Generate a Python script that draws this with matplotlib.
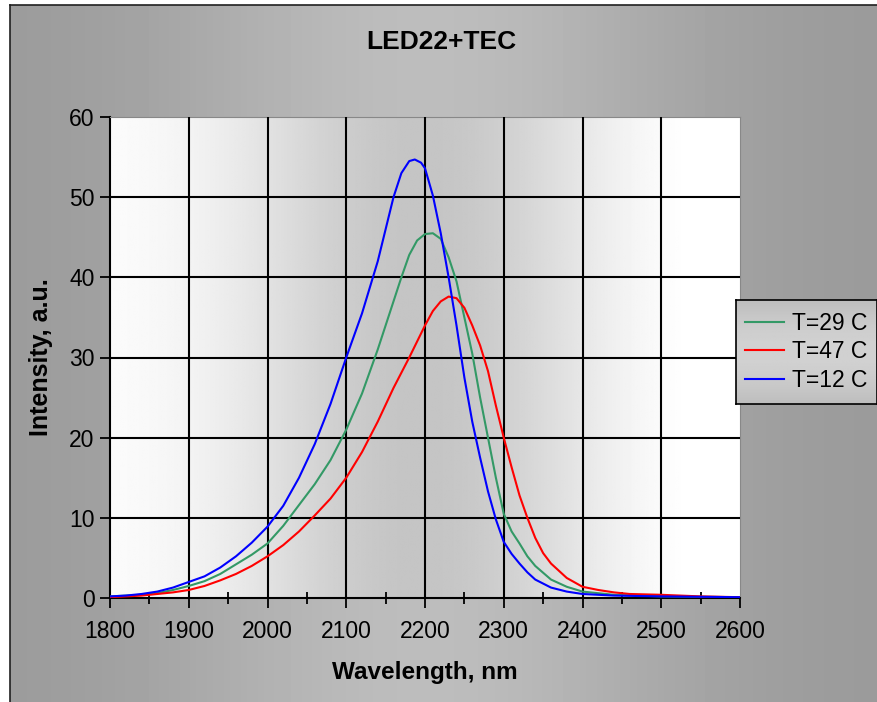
import matplotlib
matplotlib.use("Agg")
import matplotlib.pyplot as plt
import numpy as np

# spectra
wl_12 = [1800, 1820, 1840, 1860, 1880, 1900, 1920, 1940, 1960, 1980, 2000,
         2020, 2040, 2060, 2080, 2100, 2120, 2140, 2150, 2160, 2170, 2180,
         2187, 2195, 2200, 2210, 2220, 2230, 2240, 2250, 2260, 2270, 2280,
         2290, 2300, 2310, 2320, 2330, 2340, 2360, 2380, 2400, 2440, 2500,
         2600]
int_12 = [0.2, 0.3, 0.5, 0.8, 1.3, 2.0, 2.7, 3.8, 5.2, 6.9, 8.9,
          11.5, 15.0, 19.2, 24.2, 30.0, 35.5, 42.0, 46.0, 50.0, 53.0, 54.5,
          54.7, 54.3, 53.6, 50.2, 45.5, 40.0, 34.0, 27.5, 22.0, 17.5, 13.3,
          9.8, 7.0, 5.5, 4.3, 3.2, 2.3, 1.3, 0.8, 0.5, 0.3, 0.2,
          0.1]

wl_29 = [1800, 1820, 1840, 1860, 1880, 1900, 1920, 1940, 1960, 1980, 2000,
         2020, 2040, 2060, 2080, 2100, 2120, 2140, 2150, 2160, 2170, 2180,
         2190, 2200, 2210, 2220, 2230, 2240, 2250, 2260, 2270, 2280, 2290,
         2300, 2310, 2320, 2330, 2340, 2360, 2380, 2400, 2440, 2500, 2600]
int_29 = [0.2, 0.3, 0.4, 0.6, 1.0, 1.5, 2.1, 3.0, 4.2, 5.4, 6.8,
          9.0, 11.6, 14.2, 17.2, 21.0, 25.5, 31.0, 34.0, 37.0, 40.0, 42.8,
          44.6, 45.4, 45.5, 44.8, 42.5, 39.5, 35.0, 30.5, 25.0, 20.0, 15.0,
          10.5, 8.3, 6.8, 5.2, 4.0, 2.3, 1.4, 0.8, 0.4, 0.2, 0.1]

wl_47 = [1800, 1820, 1840, 1860, 1880, 1900, 1920, 1940, 1960, 1980, 2000,
         2020, 2040, 2060, 2080, 2100, 2120, 2140, 2160, 2180, 2200, 2210,
         2220, 2230, 2240, 2250, 2260, 2270, 2280, 2290, 2300, 2310, 2320,
         2330, 2340, 2350, 2360, 2380, 2400, 2420, 2440, 2460, 2500, 2550,
         2600]
int_47 = [0.1, 0.2, 0.3, 0.5, 0.7, 1.0, 1.5, 2.2, 3.0, 4.0, 5.2,
          6.6, 8.3, 10.3, 12.4, 15.0, 18.2, 22.0, 26.2, 30.0, 34.0, 35.8,
          37.0, 37.6, 37.4, 36.2, 34.0, 31.5, 28.3, 24.0, 20.0, 16.3, 12.8,
          10.0, 7.5, 5.6, 4.3, 2.5, 1.4, 1.0, 0.7, 0.5, 0.4, 0.2,
          0.1]

series = [("T=29 C", wl_29, int_29, "#339966"),
          ("T=47 C", wl_47, int_47, "#ff0000"),
          ("T=12 C", wl_12, int_12, "#0000ff")]

plt.rcParams['font.family'] = ['Liberation Sans', 'DejaVu Sans']

W, H = 878, 702
fig = plt.figure(figsize=(W/100., H/100.), dpi=100, facecolor='white')

#-- chart area background (horizontal grey gradient) with frame
bg = fig.add_axes([10./W, 0., 1. - 10./W, (H - 5.)/H], zorder=-10)
xg = np.linspace(0., 1., 256)
shade = 0.60 + 0.14*np.exp(-((xg - 0.48)/0.30)**2)
bg.imshow(np.tile(shade, (2, 1)), cmap='gray', vmin=0, vmax=1,
          aspect='auto', extent=(0, 1, 0, 1))
bg.set_xticks([])
bg.set_yticks([])
for s in bg.spines.values():
    s.set_color('#202020')
    s.set_linewidth(1.2)
bg.spines['bottom'].set_visible(False)

#-- plot area
ax = fig.add_axes([110./W, (H - 598.)/H, 630./W, 481./H])
xs = np.linspace(0., 1., 400)
pshade = 1.0 - 0.25*np.exp(-((xs - 0.50)/0.30)**2)
pshade = np.clip(pshade + 0.04*xs, 0, 1)
ax.imshow(np.tile(pshade, (2, 1)), cmap='gray', vmin=0, vmax=1,
          aspect='auto', extent=(1800, 2600, 0, 60), zorder=0)

for lab, x, y, c in series:
    ax.plot(x, y, color=c, lw=1.5, label=lab, zorder=3)

ax.set_xlim(1800, 2600)
ax.set_ylim(0, 60)
ax.set_xticks(np.arange(1800, 2601, 100))
ax.set_xticks(np.arange(1850, 2600, 100), minor=True)
ax.set_yticks(np.arange(0, 61, 10))
ax.grid(True, which='major', color='black', lw=1.5, zorder=1)
ax.set_axisbelow(False)
for g in ax.get_xgridlines()[-1:] + ax.get_ygridlines()[-1:]:
    g.set_visible(False)
for g in ax.get_xgridlines()[:1] + ax.get_ygridlines()[:1]:
    g.set_visible(False)

ax.tick_params(axis='both', which='major', direction='out', length=7,
               width=1.3, color='black', labelsize=16.5, pad=6)
ax.tick_params(axis='x', which='major', pad=9)
ax.tick_params(axis='x', which='minor', direction='inout', length=8,
               width=1.3, color='black')
ax.tick_params(axis='y', pad=4)
for sp in ('left', 'bottom'):
    ax.spines[sp].set_color('black')
    ax.spines[sp].set_linewidth(1.5)
for sp in ('top', 'right'):
    ax.spines[sp].set_color('#888888')
    ax.spines[sp].set_linewidth(0.8)

ax.set_xlabel('Wavelength, nm', fontsize=17.5, fontweight='bold', labelpad=13)
ax.set_ylabel('Intensity, a.u.', fontsize=18, fontweight='bold', labelpad=12)
fig.text(441./W, 1 - 42./H, 'LED22+TEC', ha='center', va='center',
         fontsize=19, fontweight='bold')

#-- legend box with vertical gradient
lg = fig.add_axes([736./W, (H - 404.)/H, 141./W, 104./H], zorder=5)
yl = np.linspace(0., 1., 64)
lshade = 0.68 + 0.14*np.sin(np.pi*(0.15 + 0.7*yl))
lg.imshow(np.tile(lshade, (2, 1)).T, cmap='gray', vmin=0, vmax=1,
          aspect='auto', extent=(0, 1, 0, 1))
lg.set_xticks([])
lg.set_yticks([])
for s in lg.spines.values():
    s.set_color('black')
    s.set_linewidth(1.2)
h, l = ax.get_legend_handles_labels()
lg.legend(h, l, loc='center', frameon=False, fontsize=16.5,
          handlelength=1.7, handletextpad=0.35, labelspacing=0.25,
          borderaxespad=0.)

plt.savefig('out.png', dpi=100, facecolor='white')
